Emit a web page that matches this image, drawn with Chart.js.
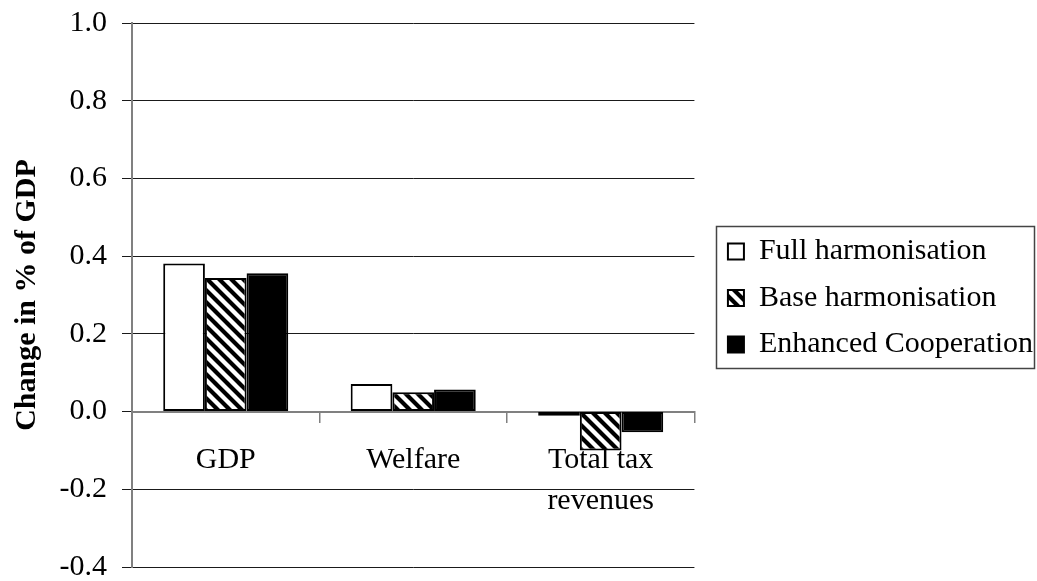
<!DOCTYPE html>
<html>
<head>
<meta charset="utf-8">
<script src="https://cdn.jsdelivr.net/npm/chart.js@4/dist/chart.umd.min.js"></script>
<style>
  html, body { margin: 0; padding: 0; background: #fff; }
  #wrap { width: 1037px; height: 581px; position: relative; overflow: hidden; }
</style>
</head>
<body>
<div id="wrap"><canvas id="c" width="1037" height="581"></canvas></div>
<script>
// ---- data ----
const categories = ['GDP', 'Welfare', ['Total tax', 'revenues']];
const seriesNames = ['Full harmonisation', 'Base harmonisation', 'Enhanced Cooperation'];
const fullHarmonisation = [0.381, 0.071, -0.011];
const baseHarmonisation = [0.344, 0.050, -0.100];
const enhancedCooperation = [0.356, 0.057, -0.053];
const yTicks = [-0.4, -0.2, 0.0, 0.2, 0.4, 0.6, 0.8, 1.0];
const yTitle = 'Change in % of GDP';

// ---- hatch pattern ----
function makeHatch() {
  const s = 12;
  const c = document.createElement('canvas');
  c.width = s; c.height = s;
  const g = c.getContext('2d');
  g.fillStyle = '#fff';
  g.fillRect(0, 0, s, s);
  g.strokeStyle = '#000';
  g.lineWidth = 4.2;
  g.lineCap = 'square';
  for (let k = -1; k <= 1; k++) {
    g.beginPath();
    g.moveTo(k * s - 2, -2);
    g.lineTo(k * s + s + 2, s + 2);
    g.stroke();
  }
  return g.createPattern(c, 'repeat');
}
const ctx = document.getElementById('c').getContext('2d');
const hatch = makeHatch();

const serif = "'Liberation Serif', 'Times New Roman', Times, serif";

const legendBorder = {
  id: 'legendBorder',
  afterDraw(chart) {
    const lg = chart.legend;
    if (!lg || !lg.legendHitBoxes || !lg.legendHitBoxes.length) return;
    const hb = lg.legendHitBoxes;
    let l = Infinity, r = -Infinity;
    hb.forEach(h => { l = Math.min(l, h.left); r = Math.max(r, h.left + h.width); });
    const t = hb[0].top - 11;
    const b = hb[hb.length - 1].top + hb[hb.length - 1].height + 8;
    const x0 = Math.round(l - 12), x1 = Math.min(Math.round(r + 4), chart.width - 3);
    const c = chart.ctx;
    c.save();
    c.strokeStyle = '#444';
    c.lineWidth = 1.5;
    c.strokeRect(x0 + 0.5, Math.round(t) + 0.5, x1 - x0, Math.round(b - t));
    c.restore();
  }
};

const common = { borderColor: '#000', borderWidth: 2, borderSkipped: false,
                 categoryPercentage: 0.667, barPercentage: 1.0 };

new Chart(ctx, {
  type: 'bar',
  data: {
    labels: categories,
    datasets: [
      Object.assign({ label: seriesNames[0], data: fullHarmonisation, backgroundColor: '#fff' }, common),
      Object.assign({ label: seriesNames[1], data: baseHarmonisation, backgroundColor: hatch }, common),
      Object.assign({ label: seriesNames[2], data: enhancedCooperation, backgroundColor: '#000' }, common)
    ]
  },
  options: {
    responsive: false,
    animation: false,
    devicePixelRatio: 1,
    layout: { padding: { left: 0, top: 23, right: -6, bottom: 14 } },
    plugins: {
      tooltip: { enabled: false },
      legend: {
        position: 'right',
        align: 'center',
        fullSize: false,
        maxWidth: 420,
        title: { display: true, text: ' ', padding: 0, font: { size: 5, lineHeight: 1.2 } },
        labels: {
          boxWidth: 16,
          boxHeight: 16,
          padding: 16.5,
          color: '#000',
          font: { family: serif, size: 30 }
        }
      }
    },
    scales: {
      x: {
        position: { y: 0 },
        grid: { display: true, drawOnChartArea: false, drawTicks: true, tickLength: 10, color: '#808080', lineWidth: 1.5, offset: true },
        border: { display: true, color: '#808080', width: 2 },
        ticks: { color: '#000', padding: 18, font: { family: serif, size: 30, lineHeight: 1.37 }, maxRotation: 0, autoSkip: false }
      },
      y: {
        min: -0.4, max: 1.0,
        afterFit(s) { s.width = 132; s.paddingTop = 0; s.paddingBottom = 0; },
        afterBuildTicks(s) { s.ticks = yTicks.map(v => ({ value: v })); },
        grid: { color: '#1a1a1a', lineWidth: 1, drawTicks: true, tickLength: 10 },
        border: { display: true, color: '#808080', width: 2 },
        ticks: { color: '#000', padding: 15, font: { family: serif, size: 30 },
                 callback: v => Number(v).toFixed(1) },
        title: { display: true, text: yTitle, color: '#000', padding: { top: 9, bottom: 0 },
                 font: { family: serif, size: 30, weight: 'bold' } }
      },
      gap: {
        type: 'linear', position: 'right', display: true,
        afterFit(s) { s.width = 17; s.paddingTop = 0; s.paddingBottom = 0; },
        grid: { display: false }, border: { display: false }, ticks: { display: false }
      }
    }
  },
  plugins: [legendBorder]
});
</script>
</body>
</html>
